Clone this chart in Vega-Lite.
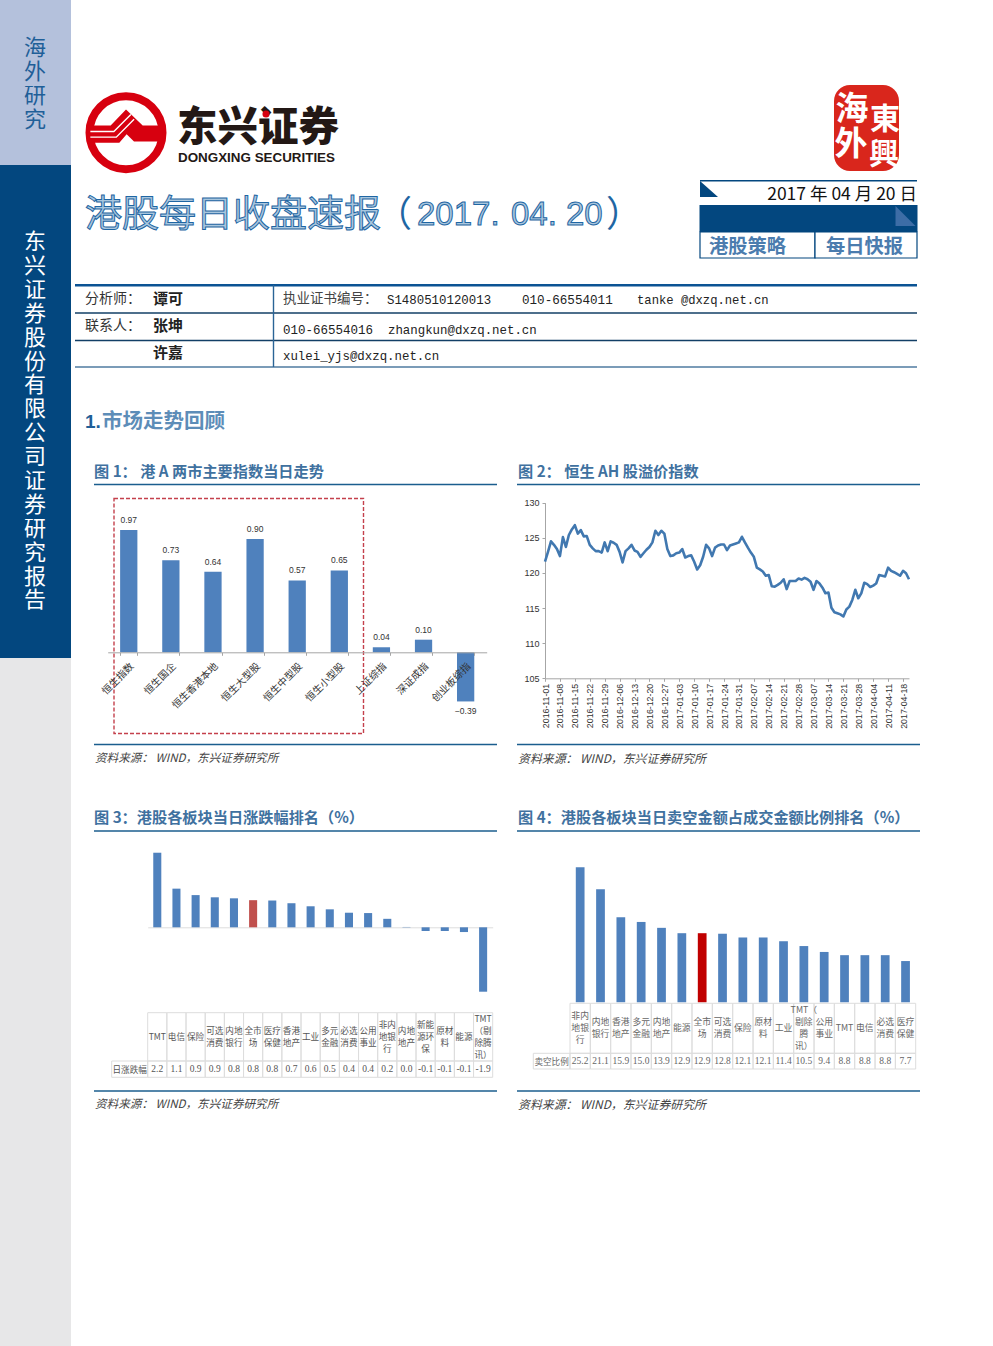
{"$schema":"https://vega.github.io/schema/vega-lite/v6.json","width":993,"height":1346,"padding":0,"autosize":{"type":"none"},"background":"white",
"config":{"view":{"stroke":null},"font":"Noto Sans CJK SC","text":{"font":"Noto Sans CJK SC"}},
"resolve":{"scale":{"x":"independent","y":"independent","color":"independent"},"axis":{"x":"independent","y":"independent"}},
"data":{"values":[{}]},
"layer":[
{"mark":{"type":"rect","x":0,"x2":71,"y":0,"y2":165,"fill":"#b4c1dc"}},
{"mark":{"type":"rect","x":0,"x2":71,"y":165,"y2":658,"fill":"#03477f"}},
{"mark":{"type":"rect","x":0,"x2":71,"y":658,"y2":1346,"fill":"#e7e7e8"}},
{"mark":{"type":"text","text":["海","外","研","究"],"x":35,"y":48,"align":"center","fontSize":22,"lineHeight":24,"fill":"#1f5f98"}},
{"mark":{"type":"text","text":["东","兴","证","券","股","份","有","限","公","司","证","券","研","究","报","告"],"x":35,"y":242,"align":"center","fontSize":22,"lineHeight":23.9,"fill":"#ffffff"}},

{"mark":{"type":"point","shape":"circle","filled":false,"x":126,"y":132.7,"size":5329,"stroke":"#d7000f","strokeWidth":8,"opacity":1}},
{"mark":{"type":"point","shape":"M-.9 -.177L-.379 -.177L0 -.572L.412 -.177L.9 -.177L.9 .218L.198 .218L.016 .037L-.165 .251L-.9 .251Z","filled":true,"x":126,"y":132.7,"size":6561,"fill":"#d7000f","strokeWidth":0,"opacity":1}},
{"mark":{"type":"point","shape":"M-.88 -.03L-.3 -.03L.12 -.45M-.88 .11L-.24 .11L.2 -.33","filled":false,"x":126,"y":132.7,"size":6561,"stroke":"#ffffff","strokeWidth":1.4,"opacity":1}},
{"mark":{"type":"text","text":"东兴证券","x":177,"y":129,"align":"left","fontSize":40.5,"fontWeight":900,"fill":"#231815"}},
{"mark":{"type":"text","text":"DONGXING SECURITIES","x":178,"y":157.5,"align":"left","font":"Liberation Sans","fontSize":13.4,"fontWeight":"bold","fill":"#231815"}},
{"mark":{"type":"point","shape":"circle","filled":true,"x":266,"y":114,"size":50,"fill":"#d7000f","strokeWidth":0,"opacity":1}},

{"mark":{"type":"rect","x":834,"x2":899,"y":85,"y2":171,"cornerRadius":16,"fill":"#d9261c"}},
{"mark":{"type":"text","text":"海","x":852,"y":110,"align":"center","fontSize":33,"fontWeight":"bold","fill":"#ffffff"}},
{"mark":{"type":"text","text":"東","x":885,"y":120,"align":"center","fontSize":30,"fontWeight":"bold","fill":"#ffffff"}},
{"mark":{"type":"text","text":"外","x":851,"y":145,"align":"center","fontSize":33,"fontWeight":"bold","fill":"#ffffff"}},
{"mark":{"type":"text","text":"興","x":884,"y":155,"align":"center","fontSize":30,"fontWeight":"bold","fill":"#ffffff"}},

{"mark":{"type":"text","text":"港股每日收盘速报","x":85,"y":216,"align":"left","fontSize":37,"fill":"#a9c6de","stroke":"#1f66a3","strokeWidth":1}},
{"mark":{"type":"text","text":"（","x":376,"y":216,"align":"left","fontSize":36,"fill":"#1f66a3"}},
{"mark":{"type":"text","text":"2017.","x":417,"y":215,"align":"left","font":"Liberation Sans","fontSize":33,"fill":"#a9c6de","stroke":"#1f66a3","strokeWidth":1}},
{"mark":{"type":"text","text":"04.","x":511,"y":215,"align":"left","font":"Liberation Sans","fontSize":33,"fill":"#a9c6de","stroke":"#1f66a3","strokeWidth":1}},
{"mark":{"type":"text","text":"20","x":566,"y":215,"align":"left","font":"Liberation Sans","fontSize":33,"fill":"#a9c6de","stroke":"#1f66a3","strokeWidth":1}},
{"mark":{"type":"text","text":"）","x":606,"y":216,"align":"left","fontSize":36,"fill":"#1f66a3"}},

{"mark":{"type":"rect","x":700,"x2":917,"y":180,"y2":181.5,"fill":"#03477f"}},
{"mark":{"type":"point","shape":"M-1 -.9L-1 .9L1 .9Z","filled":true,"x":709,"y":189,"size":324,"fill":"#03477f","strokeWidth":0,"opacity":1}},
{"mark":{"type":"text","text":"2017  年 04 月 20 日","x":917,"y":195,"align":"right","fontSize":17.5,"fill":"#111111"}},
{"mark":{"type":"rect","x":699.5,"x2":917.5,"y":205,"y2":232,"fill":"#03477f"}},
{"mark":{"type":"point","shape":"M-1 -1L-1 1L1 1Z","filled":true,"x":905.5,"y":216,"size":400,"fill":"#3d6da6","strokeWidth":0,"opacity":1}},
{"mark":{"type":"rect","x":700,"x2":815,"y":232,"y2":258,"fill":"#ffffff","stroke":"#03477f","strokeWidth":1.2}},
{"mark":{"type":"rect","x":815,"x2":917,"y":232,"y2":258,"fill":"#ffffff","stroke":"#03477f","strokeWidth":1.2}},
{"mark":{"type":"text","text":"港股策略","x":709,"y":246.5,"align":"left","fontSize":19.3,"fontWeight":"bold","fill":"#4b7cae"}},
{"mark":{"type":"text","text":"每日快报","x":826,"y":246.5,"align":"left","fontSize":19.3,"fontWeight":"bold","fill":"#4b7cae"}},

{"mark":{"type":"rect","x":75,"x2":917,"y":284,"y2":286.5,"fill":"#0b5394"}},
{"mark":{"type":"rect","x":75,"x2":917,"y":312.3,"y2":313.7,"fill":"#123f66"}},
{"mark":{"type":"rect","x":75,"x2":917,"y":339.8,"y2":341.2,"fill":"#123f66"}},
{"mark":{"type":"rect","x":75,"x2":917,"y":366.2,"y2":367.8,"fill":"#4f7ba1"}},
{"mark":{"type":"rect","x":272.8,"x2":274.2,"y":285,"y2":367,"fill":"#2a6496"}},
{"mark":{"type":"text","text":"分析师：","x":85,"y":299,"align":"left","fontSize":14,"fill":"#333333"}},
{"mark":{"type":"text","text":"谭可","x":153,"y":299,"align":"left","fontSize":15,"fontWeight":"bold","fill":"#222222"}},
{"mark":{"type":"text","text":"联系人：","x":85,"y":326,"align":"left","fontSize":14,"fill":"#333333"}},
{"mark":{"type":"text","text":"张坤","x":153,"y":326,"align":"left","fontSize":15,"fontWeight":"bold","fill":"#222222"}},
{"mark":{"type":"text","text":"许嘉","x":153,"y":352.5,"align":"left","fontSize":15,"fontWeight":"bold","fill":"#222222"}},
{"mark":{"type":"text","text":"执业证书编号：","x":283,"y":298.5,"align":"left","fontSize":13.5,"fill":"#444444"}},
{"mark":{"type":"text","text":"S1480510120013","x":387,"y":299.5,"align":"left","font":"Liberation Mono","fontSize":12.4,"fill":"#222222"}},
{"mark":{"type":"text","text":"010-66554011","x":522,"y":299.5,"align":"left","font":"Liberation Mono","fontSize":12.6,"fill":"#222222"}},
{"mark":{"type":"text","text":"tanke @dxzq.net.cn","x":637,"y":299.5,"align":"left","font":"Liberation Mono","fontSize":12.2,"fill":"#222222"}},
{"mark":{"type":"text","text":"010-66554016","x":283,"y":329.5,"align":"left","font":"Liberation Mono","fontSize":12.5,"fill":"#222222"}},
{"mark":{"type":"text","text":"zhangkun@dxzq.net.cn","x":388,"y":329.5,"align":"left","font":"Liberation Mono","fontSize":12.4,"fill":"#222222"}},
{"mark":{"type":"text","text":"xulei_yjs@dxzq.net.cn","x":283,"y":355.5,"align":"left","font":"Liberation Mono","fontSize":12.4,"fill":"#222222"}},

{"mark":{"type":"text","text":"1.","x":85,"y":421.5,"align":"left","font":"Liberation Sans","fontSize":19,"fontWeight":"bold","fill":"#1f5f98"}},
{"mark":{"type":"text","text":"市场走势回顾","x":102,"y":421.5,"align":"left","fontSize":20.5,"fontWeight":"bold","fill":"#5d8db8"}},

{"mark":{"type":"text","text":"图 1：  港 A 两市主要指数当日走势","x":94,"y":472,"align":"left","fontSize":15.2,"fontWeight":"bold","fill":"#40719f"}},
{"mark":{"type":"text","text":"图 2：  恒生 AH 股溢价指数","x":518,"y":472,"align":"left","fontSize":15.2,"fontWeight":"bold","fill":"#40719f"}},
{"mark":{"type":"text","text":"图 3：港股各板块当日涨跌幅排名（%）","x":94,"y":818,"align":"left","fontSize":15.2,"fontWeight":"bold","fill":"#40719f"}},
{"mark":{"type":"text","text":"图 4：港股各板块当日卖空金额占成交金额比例排名（%）","x":518,"y":818,"align":"left","fontSize":15.2,"fontWeight":"bold","fill":"#40719f"}},
{"mark":{"type":"rect","x":94,"x2":497,"y":483.8,"y2":485.2,"fill":"#1b5e8e"}},
{"mark":{"type":"rect","x":517,"x2":920,"y":483.8,"y2":485.2,"fill":"#1b5e8e"}},
{"mark":{"type":"rect","x":94,"x2":497,"y":743.8,"y2":745.2,"fill":"#1b5e8e"}},
{"mark":{"type":"rect","x":517,"x2":920,"y":743.8,"y2":745.2,"fill":"#1b5e8e"}},
{"mark":{"type":"rect","x":94,"x2":497,"y":830.3,"y2":831.7,"fill":"#1b5e8e"}},
{"mark":{"type":"rect","x":517,"x2":920,"y":830.3,"y2":831.7,"fill":"#1b5e8e"}},
{"mark":{"type":"rect","x":94,"x2":497,"y":1090.3,"y2":1091.7,"fill":"#1b5e8e"}},
{"mark":{"type":"rect","x":517,"x2":920,"y":1090.3,"y2":1091.7,"fill":"#1b5e8e"}},
{"mark":{"type":"text","text":"资料来源： WIND，东兴证券研究所","x":95,"y":759,"align":"left","fontSize":11.6,"fontStyle":"italic","fill":"#444444"}},
{"mark":{"type":"text","text":"资料来源：  WIND，东兴证券研究所","x":518,"y":759,"align":"left","fontSize":11.9,"fontStyle":"italic","fill":"#444444"}},
{"mark":{"type":"text","text":"资料来源： WIND，东兴证券研究所","x":95,"y":1105,"align":"left","fontSize":11.6,"fontStyle":"italic","fill":"#444444"}},
{"mark":{"type":"text","text":"资料来源：  WIND，东兴证券研究所","x":518,"y":1105,"align":"left","fontSize":11.9,"fontStyle":"italic","fill":"#444444"}},

{"data":{"values":[{"name":"恒生指数","value":0.97},{"name":"恒生国企","value":0.73},{"name":"恒生香港本地","value":0.64},{"name":"恒生大型股","value":0.90},{"name":"恒生中型股","value":0.57},{"name":"恒生小型股","value":0.65},{"name":"上证综指","value":0.04},{"name":"深证成指","value":0.10},{"name":"创业板综指","value":-0.39}]},
"encoding":{"x":{"field":"name","type":"nominal","sort":null,"title":null,"scale":{"type":"band","range":[107.7,486.7],"paddingInner":0.59,"paddingOuter":0.295},"axis":{"orient":"bottom","offset":-693.7,"labelAngle":-45,"labelAlign":"right","labelBaseline":"middle","labelFontSize":10,"labelColor":"#333333","labelPadding":9,"labelOffset":3,"labelOverlap":false,"tickBand":"extent","tickSize":3,"tickColor":"#a6a6a6","domainColor":"#a6a6a6","grid":false,"zindex":1}},
"y":{"field":"value","type":"quantitative","title":null,"scale":{"domain":[-0.5,1.1],"range":[715.3,513.7],"nice":false,"zero":false},"axis":null}},
"layer":[
{"mark":{"type":"bar","fill":"#4f81bd"}},
{"transform":[{"filter":"datum.value>=0"}],"mark":{"type":"text","dy":-10,"align":"center","font":"Liberation Sans","fontSize":8.5,"fill":"#333333"},"encoding":{"text":{"field":"value","type":"quantitative","format":".2f"}}},
{"transform":[{"filter":"datum.value<0"}],"mark":{"type":"text","dy":10,"align":"center","font":"Liberation Sans","fontSize":8.5,"fill":"#333333"},"encoding":{"text":{"field":"value","type":"quantitative","format":".2f"}}}
]},
{"mark":{"type":"rect","x":114,"x2":363.5,"y":498.5,"y2":733.5,"fill":null,"stroke":"#c4404c","strokeWidth":1.4,"strokeDash":[4,2]}},

{"data":{"values":[{"date":"2016-11-01","value":121.6},{"date":"2016-11-02","value":123.0},{"date":"2016-11-03","value":124.5},{"date":"2016-11-04","value":124.0},{"date":"2016-11-07","value":123.4},{"date":"2016-11-08","value":122.4},{"date":"2016-11-09","value":125.1},{"date":"2016-11-10","value":123.7},{"date":"2016-11-11","value":125.4},{"date":"2016-11-14","value":126.2},{"date":"2016-11-15","value":126.8},{"date":"2016-11-16","value":125.6},{"date":"2016-11-17","value":126.1},{"date":"2016-11-18","value":125.2},{"date":"2016-11-21","value":125.25},{"date":"2016-11-22","value":124.0},{"date":"2016-11-23","value":123.5},{"date":"2016-11-24","value":123.1},{"date":"2016-11-25","value":123.1},{"date":"2016-11-28","value":122.9},{"date":"2016-11-29","value":124.35},{"date":"2016-11-30","value":123.1},{"date":"2016-12-01","value":124.5},{"date":"2016-12-02","value":124.3},{"date":"2016-12-05","value":124.0},{"date":"2016-12-06","value":123.0},{"date":"2016-12-07","value":121.5},{"date":"2016-12-08","value":123.1},{"date":"2016-12-09","value":123.5},{"date":"2016-12-12","value":124.0},{"date":"2016-12-13","value":123.2},{"date":"2016-12-14","value":123.0},{"date":"2016-12-15","value":122.3},{"date":"2016-12-16","value":122.8},{"date":"2016-12-19","value":123.3},{"date":"2016-12-20","value":123.7},{"date":"2016-12-21","value":124.35},{"date":"2016-12-22","value":126.0},{"date":"2016-12-23","value":125.4},{"date":"2016-12-26","value":126.0},{"date":"2016-12-27","value":125.6},{"date":"2016-12-28","value":123.4},{"date":"2016-12-29","value":122.4},{"date":"2016-12-30","value":122.5},{"date":"2017-01-02","value":122.8},{"date":"2017-01-03","value":122.9},{"date":"2017-01-04","value":123.4},{"date":"2017-01-05","value":122.2},{"date":"2017-01-06","value":122.4},{"date":"2017-01-09","value":122.5},{"date":"2017-01-10","value":121.6},{"date":"2017-01-11","value":120.5},{"date":"2017-01-12","value":121.1},{"date":"2017-01-13","value":122.3},{"date":"2017-01-16","value":124.0},{"date":"2017-01-17","value":123.5},{"date":"2017-01-18","value":122.4},{"date":"2017-01-19","value":123.6},{"date":"2017-01-20","value":123.9},{"date":"2017-01-23","value":124.05},{"date":"2017-01-24","value":124.05},{"date":"2017-01-25","value":123.25},{"date":"2017-01-26","value":123.9},{"date":"2017-01-27","value":124.05},{"date":"2017-01-30","value":124.2},{"date":"2017-01-31","value":124.35},{"date":"2017-02-01","value":125.15},{"date":"2017-02-02","value":124.35},{"date":"2017-02-03","value":123.6},{"date":"2017-02-06","value":122.9},{"date":"2017-02-07","value":122.3},{"date":"2017-02-08","value":120.75},{"date":"2017-02-09","value":120.5},{"date":"2017-02-10","value":120.2},{"date":"2017-02-13","value":119.6},{"date":"2017-02-14","value":119.7},{"date":"2017-02-15","value":118.1},{"date":"2017-02-16","value":118.05},{"date":"2017-02-17","value":118.3},{"date":"2017-02-20","value":118.6},{"date":"2017-02-21","value":119.1},{"date":"2017-02-22","value":117.7},{"date":"2017-02-23","value":118.85},{"date":"2017-02-24","value":118.85},{"date":"2017-02-27","value":118.85},{"date":"2017-02-28","value":119.2},{"date":"2017-03-01","value":119.05},{"date":"2017-03-02","value":119.3},{"date":"2017-03-03","value":119.1},{"date":"2017-03-06","value":118.75},{"date":"2017-03-07","value":117.6},{"date":"2017-03-08","value":118.85},{"date":"2017-03-09","value":118.5},{"date":"2017-03-10","value":117.9},{"date":"2017-03-13","value":117.1},{"date":"2017-03-14","value":117.2},{"date":"2017-03-15","value":115.05},{"date":"2017-03-16","value":114.4},{"date":"2017-03-17","value":114.25},{"date":"2017-03-20","value":114.1},{"date":"2017-03-21","value":113.8},{"date":"2017-03-22","value":114.8},{"date":"2017-03-23","value":115.2},{"date":"2017-03-24","value":116.15},{"date":"2017-03-27","value":117.6},{"date":"2017-03-28","value":116.4},{"date":"2017-03-29","value":117.1},{"date":"2017-03-30","value":118.6},{"date":"2017-03-31","value":118.4},{"date":"2017-04-03","value":118.0},{"date":"2017-04-04","value":118.2},{"date":"2017-04-05","value":118.5},{"date":"2017-04-06","value":119.7},{"date":"2017-04-07","value":119.6},{"date":"2017-04-10","value":119.5},{"date":"2017-04-11","value":120.75},{"date":"2017-04-12","value":120.3},{"date":"2017-04-13","value":120.1},{"date":"2017-04-14","value":119.85},{"date":"2017-04-17","value":119.6},{"date":"2017-04-18","value":120.3},{"date":"2017-04-19","value":119.95},{"date":"2017-04-20","value":119.1}]},
"mark":{"type":"line","stroke":"#4178b0","strokeWidth":2.6,"strokeJoin":"round"},
"encoding":{"x":{"field":"date","type":"ordinal","sort":null,"title":null,"scale":{"type":"point","range":[545,909],"padding":0},"axis":{"orient":"bottom","offset":-667.7,"values":["2016-11-01","2016-11-08","2016-11-15","2016-11-22","2016-11-29","2016-12-06","2016-12-13","2016-12-20","2016-12-27","2017-01-03","2017-01-10","2017-01-17","2017-01-24","2017-01-31","2017-02-07","2017-02-14","2017-02-21","2017-02-28","2017-03-07","2017-03-14","2017-03-21","2017-03-28","2017-04-04","2017-04-11","2017-04-18"],"labelAngle":-90,"labelAlign":"right","labelBaseline":"middle","labelFontSize":8.8,"labelFont":"Liberation Sans","labelColor":"#333333","labelPadding":2,"labelOverlap":false,"tickSize":3,"tickColor":"#a6a6a6","domainColor":"#a6a6a6","grid":false}},
"y":{"field":"value","type":"quantitative","title":null,"scale":{"domain":[105,130],"range":[678.3,502.7],"nice":false,"zero":false},"axis":{"orient":"left","offset":-545,"values":[105,110,115,120,125,130],"labelFontSize":9,"labelFont":"Liberation Sans","labelColor":"#333333","labelPadding":3,"tickSize":3,"tickColor":"#a6a6a6","domainColor":"#a6a6a6","grid":false}}}},

{"data":{"name":"c3","values":[{"name":"TMT","value":2.2,"label":"2.2","group":"sector"},{"name":"电信","value":1.14,"label":"1.1","group":"sector"},{"name":"保险","value":0.95,"label":"0.9","group":"sector"},{"name":"可选\n消费","value":0.885,"label":"0.9","group":"sector"},{"name":"内地\n银行","value":0.855,"label":"0.8","group":"sector"},{"name":"全市\n场","value":0.8,"label":"0.8","group":"market"},{"name":"医疗\n保健","value":0.79,"label":"0.8","group":"sector"},{"name":"香港\n地产","value":0.71,"label":"0.7","group":"sector"},{"name":"工业","value":0.62,"label":"0.6","group":"sector"},{"name":"多元\n金融","value":0.53,"label":"0.5","group":"sector"},{"name":"必选\n消费","value":0.43,"label":"0.4","group":"sector"},{"name":"公用\n事业","value":0.42,"label":"0.4","group":"sector"},{"name":"非内\n地银\n行","value":0.25,"label":"0.2","group":"sector"},{"name":"内地\n地产","value":0.01,"label":"0.0","group":"sector"},{"name":"新能\n源环\n保","value":-0.11,"label":"-0.1","group":"sector"},{"name":"原材\n料","value":-0.11,"label":"-0.1","group":"sector"},{"name":"能源","value":-0.14,"label":"-0.1","group":"sector"},{"name":"TMT\n（剔\n除腾\n讯）","value":-1.9,"label":"-1.9","group":"sector"}]},
"mark":{"type":"bar"},"encoding":{"x":{"field":"name","type":"nominal","sort":null,"title":null,"scale":{"type":"band","range":[147.7,492.7],"paddingInner":0.58,"paddingOuter":0.29},"axis":{"orient":"bottom","offset":-418.7,"labels":false,"ticks":false,"domainColor":"#dddddd","grid":false}},"y":{"field":"value","type":"quantitative","title":null,"scale":{"domain":[-3,3],"range":[1029,825.6],"nice":false,"zero":false},"axis":null},"color":{"field":"group","type":"nominal","legend":null,"scale":{"domain":["sector","market"],"range":["#4f81bd","#c0504d"]}}}},
{"data":{"name":"c3"},
"encoding":{"x":{"field":"name","type":"nominal","sort":null,"title":null,"scale":{"type":"band","range":[147.7,492.7],"padding":0},"axis":null}},
"layer":[
{"mark":{"type":"rect","fill":null,"stroke":"#dddddd","strokeWidth":1},"encoding":{"y":{"datum":1,"type":"quantitative","title":null,"scale":{"domain":[0,1,2],"range":[1077.3,1061,1012.7]},"axis":null},"y2":{"datum":2}}},
{"mark":{"type":"rect","fill":null,"stroke":"#dddddd","strokeWidth":1},"encoding":{"y":{"datum":0,"type":"quantitative"},"y2":{"datum":1}}},
{"transform":[{"filter":"split(datum.name,'\\n').length==1"}],"mark":{"type":"text","fontSize":8.6,"fill":"#555555","align":"center"},"encoding":{"y":{"datum":1.5,"type":"quantitative"},"text":{"field":"name","type":"nominal"}}},
{"transform":[{"filter":"split(datum.name,'\\n').length==2"}],"mark":{"type":"text","dy":-6,"fontSize":8.6,"lineHeight":12,"lineBreak":"\n","fill":"#555555","align":"center"},"encoding":{"y":{"datum":1.5,"type":"quantitative"},"text":{"field":"name","type":"nominal"}}},
{"transform":[{"filter":"split(datum.name,'\\n').length==3"}],"mark":{"type":"text","dy":-12,"fontSize":8.6,"lineHeight":12,"lineBreak":"\n","fill":"#555555","align":"center"},"encoding":{"y":{"datum":1.5,"type":"quantitative"},"text":{"field":"name","type":"nominal"}}},
{"transform":[{"filter":"split(datum.name,'\\n').length==4"}],"mark":{"type":"text","dy":-18,"fontSize":8.6,"lineHeight":12,"lineBreak":"\n","fill":"#555555","align":"center"},"encoding":{"y":{"datum":1.5,"type":"quantitative"},"text":{"field":"name","type":"nominal"}}},
{"mark":{"type":"text","font":"Liberation Serif","fontSize":9.5,"fill":"#555555","align":"center"},"encoding":{"y":{"datum":0.5,"type":"quantitative"},"text":{"field":"label","type":"nominal"}}}
]},
{"mark":{"type":"rect","x":111.7,"x2":147.7,"y":1061,"y2":1077.3,"fill":null,"stroke":"#dddddd","strokeWidth":1}},
{"mark":{"type":"text","text":"日涨跌幅","x":129.7,"y":1069.5,"align":"center","fontSize":8.6,"fill":"#555555"}},

{"data":{"name":"c4","values":[{"name":"非内\n地银\n行","value":25.2,"group":"sector"},{"name":"内地\n银行","value":21.1,"group":"sector"},{"name":"香港\n地产","value":15.9,"group":"sector"},{"name":"多元\n金融","value":15.0,"group":"sector"},{"name":"内地\n地产","value":13.9,"group":"sector"},{"name":"能源","value":12.9,"group":"sector"},{"name":"全市\n场","value":12.9,"group":"market"},{"name":"可选\n消费","value":12.8,"group":"sector"},{"name":"保险","value":12.1,"group":"sector"},{"name":"原材\n料","value":12.1,"group":"sector"},{"name":"工业","value":11.4,"group":"sector"},{"name":"TMT（\n剔除\n腾\n讯）","value":10.5,"group":"sector"},{"name":"公用\n事业","value":9.4,"group":"sector"},{"name":"TMT","value":8.8,"group":"sector"},{"name":"电信","value":8.8,"group":"sector"},{"name":"必选\n消费","value":8.8,"group":"sector"},{"name":"医疗\n保健","value":7.7,"group":"sector"}]},
"mark":{"type":"bar"},"encoding":{"x":{"field":"name","type":"nominal","sort":null,"title":null,"scale":{"type":"band","range":[570,915.7],"paddingInner":0.57,"paddingOuter":0.285},"axis":null},"y":{"field":"value","type":"quantitative","title":null,"scale":{"domain":[0,30],"range":[1002.3,841.6],"nice":false,"zero":false},"axis":null},"color":{"field":"group","type":"nominal","legend":null,"scale":{"domain":["sector","market"],"range":["#4f81bd","#c00000"]}}}},
{"data":{"name":"c4"},
"encoding":{"x":{"field":"name","type":"nominal","sort":null,"title":null,"scale":{"type":"band","range":[570,915.7],"padding":0},"axis":null}},
"layer":[
{"mark":{"type":"rect","fill":null,"stroke":"#dddddd","strokeWidth":1},"encoding":{"y":{"datum":1,"type":"quantitative","title":null,"scale":{"domain":[0,1,2],"range":[1069,1053.3,1003.3]},"axis":null},"y2":{"datum":2}}},
{"mark":{"type":"rect","fill":null,"stroke":"#dddddd","strokeWidth":1},"encoding":{"y":{"datum":0,"type":"quantitative"},"y2":{"datum":1}}},
{"transform":[{"filter":"split(datum.name,'\\n').length==1"}],"mark":{"type":"text","fontSize":8.8,"fill":"#666666","align":"center"},"encoding":{"y":{"datum":1.5,"type":"quantitative"},"text":{"field":"name","type":"nominal"}}},
{"transform":[{"filter":"split(datum.name,'\\n').length==2"}],"mark":{"type":"text","dy":-6,"fontSize":8.8,"lineHeight":12,"lineBreak":"\n","fill":"#666666","align":"center"},"encoding":{"y":{"datum":1.5,"type":"quantitative"},"text":{"field":"name","type":"nominal"}}},
{"transform":[{"filter":"split(datum.name,'\\n').length==3"}],"mark":{"type":"text","dy":-12,"fontSize":8.8,"lineHeight":12,"lineBreak":"\n","fill":"#666666","align":"center"},"encoding":{"y":{"datum":1.5,"type":"quantitative"},"text":{"field":"name","type":"nominal"}}},
{"transform":[{"filter":"split(datum.name,'\\n').length==4"}],"mark":{"type":"text","dy":-18,"fontSize":8.8,"lineHeight":12,"lineBreak":"\n","fill":"#666666","align":"center"},"encoding":{"y":{"datum":1.5,"type":"quantitative"},"text":{"field":"name","type":"nominal"}}},
{"mark":{"type":"text","font":"Liberation Serif","fontSize":9.5,"fill":"#666666","align":"center"},"encoding":{"y":{"datum":0.5,"type":"quantitative"},"text":{"field":"value","type":"quantitative","format":".1f"}}}
]},
{"mark":{"type":"rect","x":533.3,"x2":570,"y":1053.3,"y2":1069,"fill":null,"stroke":"#dddddd","strokeWidth":1}},
{"mark":{"type":"text","text":"卖空比例","x":551.6,"y":1061.5,"align":"center","fontSize":8.6,"fill":"#666666"}}
]}
